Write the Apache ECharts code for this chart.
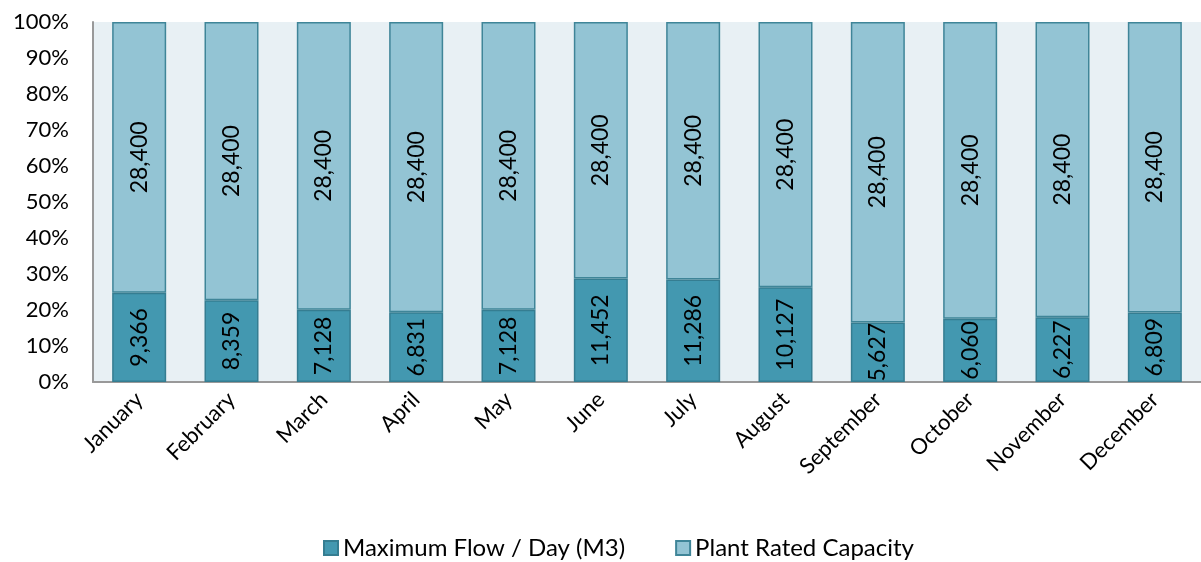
<!DOCTYPE html>
<html>
<head>
<meta charset="utf-8">
<script src="https://cdn.jsdelivr.net/npm/echarts@6/dist/echarts.min.js"></script>
<style>
  html, body { margin: 0; padding: 0; background: #fff; }
  #chart { width: 1201px; height: 562px; }
</style>
</head>
<body>
<div id="chart"></div>
<script>
// 每月数据
var months = ['January', 'February', 'March', 'April', 'May', 'June', 'July', 'August', 'September', 'October', 'November', 'December'];
var maxFlow = [9366, 8359, 7128, 6831, 7128, 11452, 11286, 10127, 5627, 6060, 6227, 6809];
var ratedCapacity = [28400, 28400, 28400, 28400, 28400, 28400, 28400, 28400, 28400, 28400, 28400, 28400];
var yTicks = ['0%', '10%', '20%', '30%', '40%', '50%', '60%', '70%', '80%', '90%', '100%'];

var fontFamily = 'Lato, "Open Sans", sans-serif';

// 换算成百分比堆叠
function pct(arr, i) {
    return arr[i] / (maxFlow[i] + ratedCapacity[i]) * 100;
}
var flowPct = [], capPct = [];
for (var i = 0; i < months.length; i++) {
    flowPct.push({ value: pct(maxFlow, i), raw: maxFlow[i] });
    capPct.push({ value: pct(ratedCapacity, i), raw: ratedCapacity[i] });
}

function fmt(p) {
    return p.data.raw.toLocaleString('en-US');
}

var myChart = echarts.init(document.getElementById('chart'));
myChart.setOption({
    animation: false,
    textStyle: { fontFamily: fontFamily },
    grid: {
        left: 93,
        top: 22,
        width: 1117,
        height: 360,
        show: true,
        backgroundColor: '#e8f0f4',
        borderWidth: 0
    },
    legend: {
        bottom: -3,
        left: 318,
        itemWidth: 14,
        itemHeight: 14,
        itemGap: 50,
        textStyle: { fontSize: 24, color: '#000', fontFamily: fontFamily },
        data: [
            { name: 'Maximum Flow / Day (M3)', icon: 'rect' },
            { name: 'Plant Rated Capacity', icon: 'rect' }
        ]
    },
    xAxis: {
        type: 'category',
        data: months,
        axisTick: { show: false },
        axisLine: { show: true, lineStyle: { color: '#999', width: 2 } },
        axisLabel: {
            interval: 0,
            rotate: 45,
            fontSize: 22,
            color: '#000',
            margin: 14,
            fontFamily: fontFamily
        }
    },
    yAxis: {
        type: 'value',
        min: 0,
        max: 100,
        interval: 10,
        axisLine: { show: true, lineStyle: { color: '#999', width: 2 } },
        axisTick: { show: false },
        splitLine: { show: false },
        axisLabel: {
            fontSize: 22,
            color: '#000',
            margin: 24,
            fontFamily: fontFamily,
            formatter: function (v) { return yTicks[Math.round(v / 10)]; }
        }
    },
    series: [
        {
            name: 'Maximum Flow / Day (M3)',
            type: 'bar',
            stack: 'total',
            barWidth: 54,
            data: flowPct,
            itemStyle: { color: '#4398b0', borderColor: '#357d91', borderWidth: 1.5 },
            label: {
                show: true,
                position: 'inside',
                rotate: 90,
                fontSize: 23,
                color: '#000',
                fontFamily: fontFamily,
                formatter: fmt
            }
        },
        {
            name: 'Plant Rated Capacity',
            type: 'bar',
            stack: 'total',
            barWidth: 54,
            data: capPct,
            itemStyle: { color: '#93c4d4', borderColor: '#3f8598', borderWidth: 1.5 },
            label: {
                show: true,
                position: 'inside',
                rotate: 90,
                fontSize: 23,
                color: '#000',
                fontFamily: fontFamily,
                formatter: fmt
            }
        }
    ]
});
</script>
</body>
</html>
